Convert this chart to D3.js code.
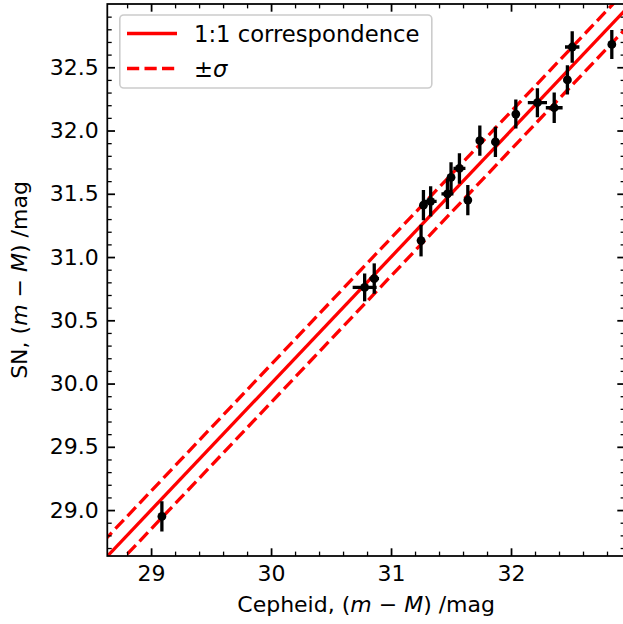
<!DOCTYPE html>
<html><head><meta charset="utf-8">
<script src="https://cdn.jsdelivr.net/npm/d3@7"></script>
<style>body{margin:0;background:#fff}svg{display:block}text{font-family:"DejaVu Sans",sans-serif}</style>
</head><body><svg id="c" width="623" height="624"></svg>
<script>
// Data
const cepheid   = [29.09, 30.78, 30.86, 31.25, 31.27, 31.33, 31.47, 31.50, 31.57, 31.64, 31.74, 31.87, 32.04, 32.22, 32.36, 32.47, 32.51, 32.84];
const sn        = [28.95, 30.76, 30.83, 31.13, 31.41, 31.44, 31.50, 31.63, 31.70, 31.45, 31.92, 31.91, 32.13, 32.22, 32.18, 32.40, 32.66, 32.68];
const cepheidErr= [0.02, 0.10, 0.04, 0.02, 0.02, 0.05, 0.05, 0.03, 0.05, 0.03, 0.02, 0.02, 0.02, 0.08, 0.07, 0.03, 0.06, 0.03];
const snErr     = [0.12, 0.11, 0.12, 0.125, 0.12, 0.12, 0.12, 0.12, 0.12, 0.12, 0.12, 0.12, 0.115, 0.115, 0.12, 0.115, 0.125, 0.115];
const sigma = 0.15;
const xTicks = [29, 30, 31, 32];
const yTicks = [29.0, 29.5, 30.0, 30.5, 31.0, 31.5, 32.0, 32.5];
const xDomain = [28.635, 32.95];
const yDomain = [28.637, 33.0];

const svg = d3.select("#c");
const L = 107.3, R = 625, T = 4, B = 556;
const x = d3.scaleLinear().domain(xDomain).range([L, R]);
const y = d3.scaleLinear().domain(yDomain).range([B, T]);
const FS = 22;

svg.append("defs").append("clipPath").attr("id","clip")
  .append("rect").attr("x",L).attr("y",T).attr("width",R-L).attr("height",B-T);

const plot = svg.append("g").attr("clip-path","url(#clip)");
const lineXs = [28.0, 34.0];
const mkLine = off => d3.line().x(d=>x(d)).y(d=>y(d+off))(lineXs);
plot.append("path").attr("d", mkLine(0)).attr("stroke","#ff0000").attr("stroke-width",3.3).attr("fill","none");
[sigma, -sigma].forEach(o=>{
  plot.append("path").attr("d", mkLine(o)).attr("stroke","#ff0000").attr("stroke-width",3.3)
    .attr("fill","none").attr("stroke-dasharray","12.2,5.3");
});

const pts = cepheid.map((c,i)=>({x:c,y:sn[i],xe:cepheidErr[i],ye:snErr[i]}));
const eg = plot.append("g");
pts.forEach(p=>{
  eg.append("line").attr("x1",x(p.x-p.xe)).attr("x2",x(p.x+p.xe)).attr("y1",y(p.y)).attr("y2",y(p.y))
    .attr("stroke","#000").attr("stroke-width",3.3);
  eg.append("line").attr("x1",x(p.x)).attr("x2",x(p.x)).attr("y1",y(p.y-p.ye)).attr("y2",y(p.y+p.ye))
    .attr("stroke","#000").attr("stroke-width",3.3);
});
eg.selectAll("circle").data(pts).join("circle").attr("cx",d=>x(d.x)).attr("cy",d=>y(d.y)).attr("r",4.4).attr("fill","#000");

// axes (ticks inward, all four sides)
const xMinor = d3.range(28.8, 33.0, 0.2).filter(v=>v>xDomain[0] && v<xDomain[1] && Math.abs(v-Math.round(v))>1e-6);
const yMinor = d3.range(28.7, 33.0, 0.1).filter(v=>v>yDomain[0] && v<yDomain[1] && Math.abs(v*2-Math.round(v*2))>1e-6);
function style(g){ g.select(".domain").remove(); g.selectAll("line").attr("stroke","#000"); g.selectAll("text").attr("font-size",FS).attr("font-family","DejaVu Sans").attr("fill","#000"); }
svg.append("g").attr("transform",`translate(0,${B})`).call(d3.axisBottom(x).tickValues(xTicks).tickFormat(d3.format("d")).tickSize(-7.7).tickPadding(9)).call(style).selectAll("line").attr("stroke-width",1.76);
svg.append("g").attr("transform",`translate(0,${B})`).call(d3.axisBottom(x).tickValues(xMinor).tickFormat("").tickSize(-4.4)).call(style).selectAll("line").attr("stroke-width",1.3);
svg.append("g").attr("transform",`translate(0,${T})`).call(d3.axisTop(x).tickValues(xTicks).tickFormat("").tickSize(-7.7)).call(style).selectAll("line").attr("stroke-width",1.76);
svg.append("g").attr("transform",`translate(0,${T})`).call(d3.axisTop(x).tickValues(xMinor).tickFormat("").tickSize(-4.4)).call(style).selectAll("line").attr("stroke-width",1.3);
svg.append("g").attr("transform",`translate(${L},0)`).call(d3.axisLeft(y).tickValues(yTicks).tickFormat(d3.format(".1f")).tickSize(-7.7).tickPadding(8.5)).call(style).selectAll("line").attr("stroke-width",1.76);
svg.append("g").attr("transform",`translate(${L},0)`).call(d3.axisLeft(y).tickValues(yMinor).tickFormat("").tickSize(-4.4)).call(style).selectAll("line").attr("stroke-width",1.3);
svg.append("g").attr("transform",`translate(${R},0)`).call(d3.axisRight(y).tickValues(yTicks).tickFormat("").tickSize(-7.7)).call(style).selectAll("line").attr("stroke-width",1.76);
svg.append("g").attr("transform",`translate(${R},0)`).call(d3.axisRight(y).tickValues(yMinor).tickFormat("").tickSize(-4.4)).call(style).selectAll("line").attr("stroke-width",1.3);
svg.append("rect").attr("x",L).attr("y",T).attr("width",R-L).attr("height",B-T).attr("fill","none").attr("stroke","#000").attr("stroke-width",1.76);

// legend
const lg = svg.append("g");
lg.append("rect").attr("x",119.8).attr("y",15).attr("width",312).attr("height",73).attr("rx",4)
  .attr("fill","#fff").attr("fill-opacity",0.8).attr("stroke","#cccccc").attr("stroke-width",1.6);
lg.append("line").attr("x1",127).attr("x2",177).attr("y1",33.5).attr("y2",33.5).attr("stroke","#ff0000").attr("stroke-width",3.3);
lg.append("line").attr("x1",127).attr("x2",177).attr("y1",68.5).attr("y2",68.5).attr("stroke","#ff0000").attr("stroke-width",3.3).attr("stroke-dasharray","12.2,5.3");
lg.append("text").attr("x",194).attr("y",33.5).attr("dy","0.36em").attr("font-size",22.7).text("1:1 correspondence");
const t2 = lg.append("text").attr("x",194).attr("y",68.5).attr("dy","0.36em").attr("font-size",22.7);
t2.append("tspan").text("±");
t2.append("tspan").attr("font-style","italic").text("σ");

// axis labels
function mathLabel(t, prefix){
  t.append("tspan").text(prefix+"(");
  t.append("tspan").attr("font-style","italic").text("m");
  t.append("tspan").text(" − ");
  t.append("tspan").attr("font-style","italic").text("M");
  t.append("tspan").text(") /mag");
}
const xl = svg.append("text").attr("x",(L+R)/2).attr("y",611.5).attr("text-anchor","middle").attr("font-size",FS);
mathLabel(xl, "Cepheid, ");
const yl = svg.append("text").attr("transform",`translate(27,${(T+B)/2}) rotate(-90)`).attr("text-anchor","middle").attr("font-size",FS);
mathLabel(yl, "SN, ");
</script></body></html>
